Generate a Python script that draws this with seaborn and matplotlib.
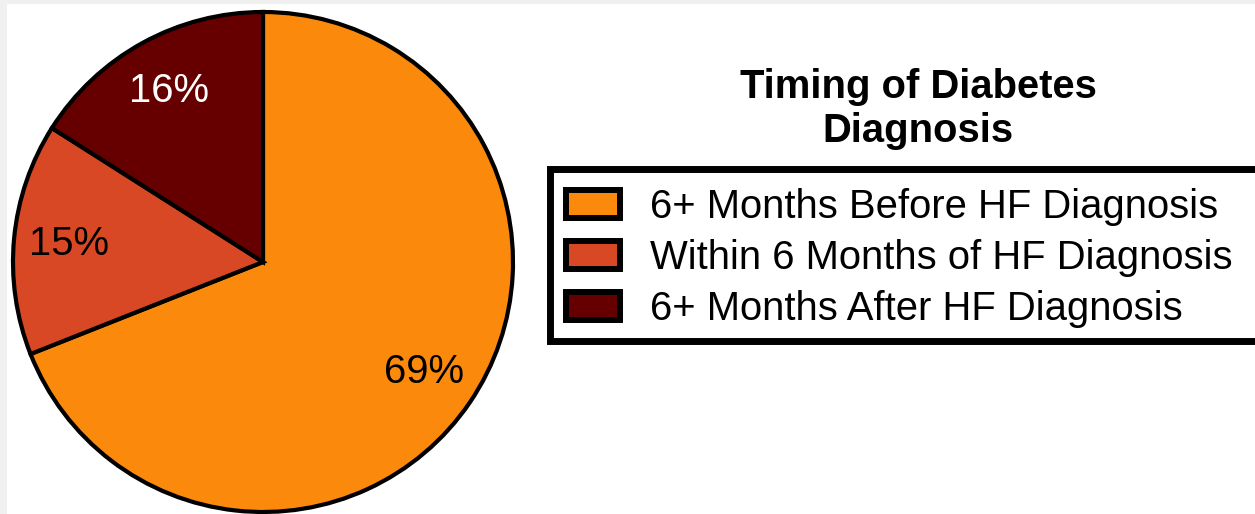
import matplotlib
matplotlib.use("Agg")
import matplotlib.pyplot as plt
from matplotlib.patches import Rectangle
import seaborn as sns

categories = ["6+ Months Before HF Diagnosis",
              "Within 6 Months of HF Diagnosis",
              "6+ Months After HF Diagnosis"]
values = [69, 15, 16]
colors = ["#FB8A0C", "#D94824", "#660000"]
label_colors = ["black", "black", "white"]
title = "Timing of Diabetes\nDiagnosis"

sns.set_theme(style="white")
plt.rcParams["font.family"] = ["Liberation Sans", "DejaVu Sans"]
plt.rcParams["text.color"] = "black"

W, H = 1255, 514
FS = 28.8
fig = plt.figure(figsize=(W / 100, H / 100), dpi=100)
fig.patch.set_facecolor("#F0F0F0")
fig.patches.append(Rectangle((7 / W, 0), 1, (H - 4) / H, transform=fig.transFigure,
                             facecolor="white", edgecolor="none", zorder=-5))

# pie axes: center (263, 262) px, radius 250 px
cx, cy, r = 263, 262, 250
ax = fig.add_axes([(cx - r) / W, (H - cy - r) / H, 2 * r / W, 2 * r / H])
ax.set_zorder(1)
ax.set_facecolor("none")
pal = sns.color_palette(colors)
wedges, texts, autotexts = ax.pie(
    values, colors=pal, startangle=90, counterclock=False,
    autopct="%d%%", pctdistance=0.78, radius=1,
    wedgeprops=dict(edgecolor="black", linewidth=3),
    textprops=dict(fontsize=FS))
for t, c in zip(autotexts, label_colors):
    t.set_color(c)
ax.set_xlim(-1, 1)
ax.set_ylim(-1, 1)
ax.set_aspect("equal")
ax.axis("off")

# title
fig.text(918 / W, 1 - 109 / H, title, ha="center", va="center",
         fontsize=FS, fontweight="bold", linespacing=1.2, color="black")

# legend box frame
fig.patches.append(Rectangle((549.5 / W, 1 - 340.5 / H), (W + 20 - 549.5) / W,
                             (340.5 - 169.5) / H, transform=fig.transFigure,
                             facecolor="white", edgecolor="black", linewidth=5,
                             clip_on=False, zorder=1))

leg = fig.legend(wedges, categories, loc="upper left",
                 bbox_to_anchor=(566 / W, 1 - 188 / H),
                 frameon=False, fontsize=FS, handlelength=1.35,
                 handleheight=0.7, handletextpad=0.75, labelspacing=0.33,
                 borderpad=0, borderaxespad=0, labelcolor="black")
leg.set_zorder(2)
for h in leg.legend_handles:
    h.set_linewidth(4.3)

fig.savefig("out.png", dpi=100, facecolor=fig.get_facecolor())
